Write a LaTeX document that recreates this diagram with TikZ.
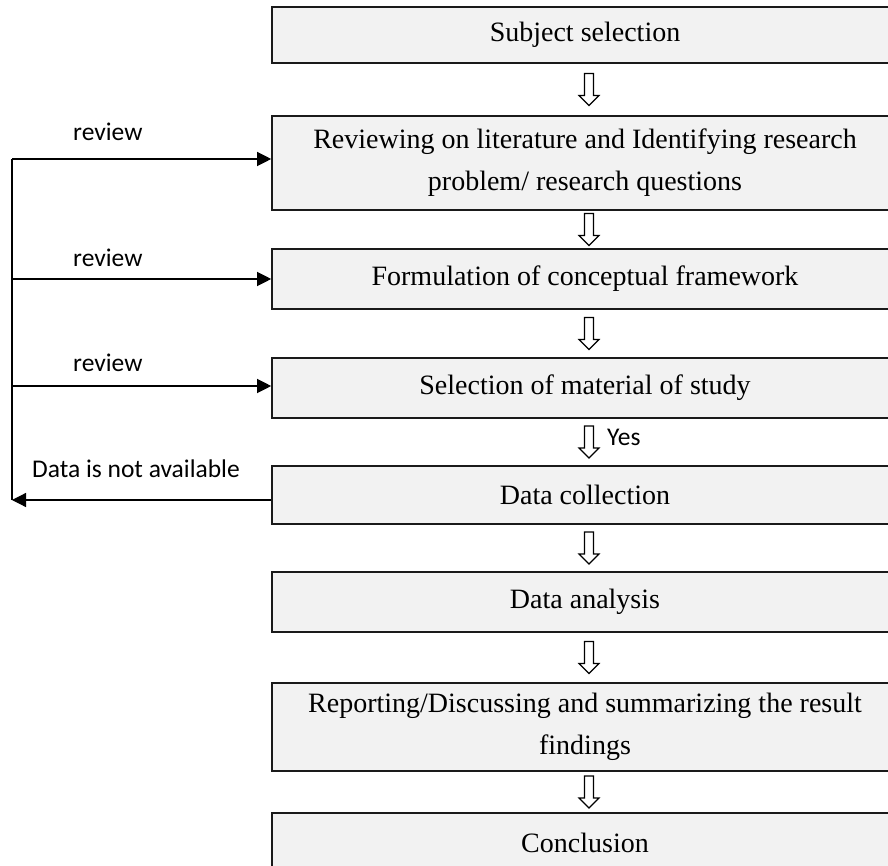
\documentclass[tikz,border=0pt]{standalone}
\usepackage{fontspec}
\setmainfont{Liberation Serif}
\newfontfamily\labelfont{Carlito}
\usetikzlibrary{arrows.meta}
\definecolor{boxfill}{HTML}{F2F2F2}
\definecolor{boxline}{HTML}{1A1A1A}

\begin{document}
\begin{tikzpicture}[x=1pt,y=-1pt,
  stepbox/.style={draw=boxline, line width=1.6pt, fill=boxfill, rectangle,
    minimum width=626pt, inner sep=0pt, align=center,
    font=\fontsize{28}{42}\selectfont},
  feedback/.style={line width=1.2pt, draw=black},
  fbarrow/.style={feedback, -{Triangle[length=14pt,width=14pt]}},
  lbl/.style={font=\labelfont\fontsize{25.5}{30}\selectfont, inner sep=0pt, anchor=base west},
  hollow/.pic={\draw[line width=1.1pt, fill=white, line join=miter]
    (-4.5,-16) -- (4.5,-16) -- (4.5,6) -- (10,6) -- (0,16) -- (-10,6) -- (-4.5,6) -- cycle;}
]
\useasboundingbox (0,0) rectangle (888,866);

% process steps (the right side runs past the page edge)
\begin{scope}
\clip (0,0) rectangle (888,866);
\node[stepbox, minimum height=56pt] (b1) at (585,35)  {Subject selection};
\node[stepbox, minimum height=94pt] (b2) at (585,163) {Reviewing on literature and Identifying research\\problem/ research questions};
\node[stepbox, minimum height=60pt] (b3) at (585,279) {Formulation of conceptual framework};
\node[stepbox, minimum height=60pt] (b4) at (585,388) {Selection of material of study};
\node[stepbox, minimum height=58pt] (b5) at (585,495) {Data collection};
\node[stepbox, minimum height=60pt] (b6) at (585,602) {Data analysis};
\node[stepbox, minimum height=88pt] (b7) at (585,727) {Reporting/Discussing and summarizing the result\\findings};
\node[stepbox, minimum height=60pt] (b8) at (585,843) {Conclusion};
\end{scope}

% hollow arrows between consecutive steps
\foreach \a/\b in {b1/b2,b2/b3,b3/b4,b4/b5,b5/b6,b6/b7,b7/b8}{
  \path (\a.south) -- (\b.north) coordinate[midway] (g\a);
  \pic at ([xshift=4pt]g\a) {hollow};
}
\node[lbl] (yes) at (607,445) {Yes};

% feedback loop on the left
\coordinate (loopTop) at (12,159);
\coordinate (loopBottom) at (12,500);
\coordinate (in2) at ([yshift=4pt]b2.west);
\coordinate (in3) at (b3.west);
\coordinate (in4) at ([yshift=2pt]b4.west);
\coordinate (out5) at ([yshift=-5pt]b5.west);

\draw[fbarrow] (out5) -- (loopBottom);
\draw[feedback] (loopBottom) -- (loopTop);
\draw[fbarrow] (loopTop) -- (in2);
\draw[fbarrow] (in3 -| loopTop) -- (in3);
\draw[fbarrow] (in4 -| loopTop) -- (in4);

\node[lbl] (r2) at (73,141) {review};
\node[lbl] (r3) at (73,266.5) {review};
\node[lbl] (r4) at (73,371) {review};
\node[lbl] (na) at (32,477) {Data is not available};
\end{tikzpicture}
\end{document}
